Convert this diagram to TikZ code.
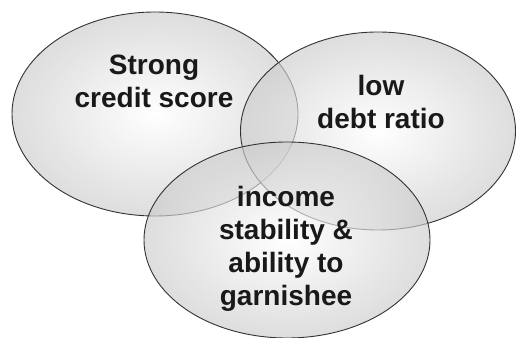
\documentclass[tikz,border=0pt]{standalone}
\usepackage{fontspec}
\setmainfont{Liberation Sans}
\usetikzlibrary{shapes.geometric}
\begin{document}
\begin{tikzpicture}[x=1pt,y=1pt,
  vennset/.style={ellipse, draw=black!80, line width=0.9pt, inner sep=0pt,
    inner color=white, outer color=black!20, fill opacity=0.65, draw opacity=1},
  venntext/.style={align=center, text=black!90, font=\bfseries\fontsize{28}{33}\selectfont, inner sep=0pt}]
\fill[white] (0,0) rectangle (516,337);
\useasboundingbox (0,0) rectangle (516,337);
\begin{scope}
\clip (0,0) rectangle (516,337);
\node[vennset, minimum width=286pt, minimum height=204pt] (credit) at (155,223) {};
\node[vennset, minimum width=275pt, minimum height=198pt] (debt) at (378,206) {};
\node[vennset, minimum width=286pt, minimum height=196pt] (income) at (287,97) {};
\end{scope}
\node[venntext] (tcredit) at (154,256) {Strong\\credit score};
\node[venntext] (tdebt) at (381,235) {low\\debt ratio};
\node[venntext] (tincome) at (286,88) {income\\stability \&\\ability to\\garnishee};
\end{tikzpicture}
\end{document}
